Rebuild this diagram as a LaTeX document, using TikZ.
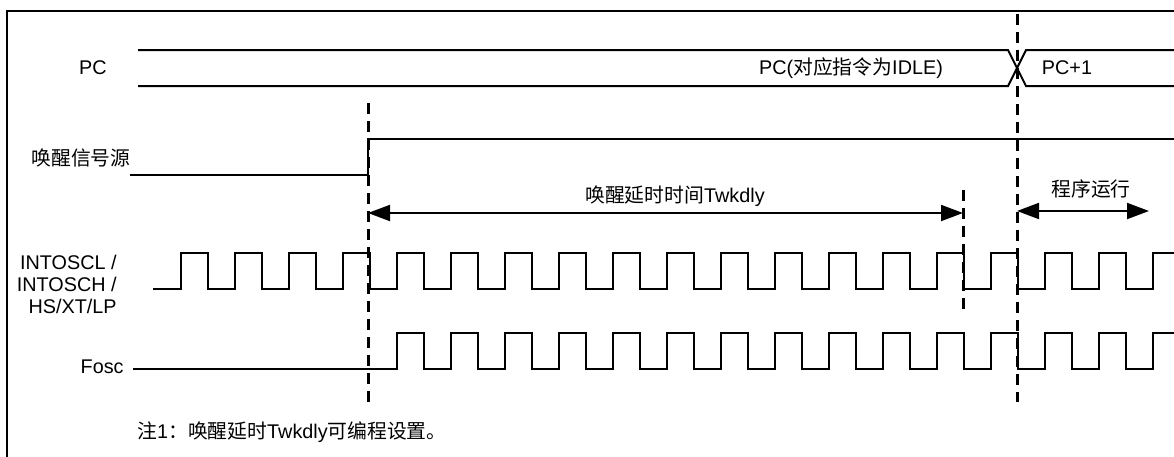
\documentclass[tikz,border=0pt]{standalone}
\usepackage{fontspec}
\setmainfont{Liberation Sans}
\newfontfamily\cjk{Noto Sans CJK SC}
\usetikzlibrary{arrows.meta}

\begin{document}
\begin{tikzpicture}[
    x=0.5pt, y=-0.5pt,
    frame/.style={line width=1.4pt},
    sig/.style={line width=1pt},
    guide/.style={line width=1.5pt, dash pattern=on 5.5pt off 3.5pt},
    span/.style={line width=1pt, {Triangle[length=11pt,width=8pt]}-{Triangle[length=11pt,width=8pt]}},
    lbl/.style={font=\fontsize{9.9}{11}\selectfont, inner sep=0pt}
]
\useasboundingbox (0,0) rectangle (1174,456);
\clip (0,0) rectangle (1174,456);

% Frame (cut off on the right and at the bottom)
\draw[frame] (7,470) -- (7,11) -- (1190,11);

% Guide marks
\coordinate (wakeT) at (368,103);
\coordinate (wakeB) at (368,402);
\coordinate (runT) at (1017,14);
\coordinate (runB) at (1017,402);
\coordinate (dlyT) at (963,190);
\coordinate (dlyB) at (963,313);
\draw[guide] (wakeT) -- (wakeB);
\draw[guide] (runT) -- (runB);
\draw[guide] (dlyT) -- (dlyB);

% PC bus
\draw[sig] (138,50) -- (1008,50) -- (1026,86) -- (1190,86);
\draw[sig] (138,86) -- (1008,86) -- (1026,50) -- (1190,50);
\node[lbl] (pc) at (93,68) {PC};
\node[lbl] (pcidle) at (851,68) {PC({\cjk 对应指令为}IDLE)};
\node[lbl] (pcnext) at (1067,68) {PC+1};

% Wake-up source
\draw[sig] (130,175) -- (368,175) -- (368,139) -- (1190,139);
\node[lbl] (wakesrc) at (81,158) {\cjk 唤醒信号源};

% Delay and run spans
\coordinate (dlyL) at (368,213);
\coordinate (dlyR) at (963,213);
\coordinate (runL) at (1017,211);
\coordinate (runR) at (1149,211);
\draw[span] (dlyL) -- (dlyR);
\draw[span] (runL) -- (runR);
\node[lbl] (dlytxt) at (675,196) {{\cjk 唤醒延时时间}Twkdly};
\node[lbl] (runtxt) at (1091,189) {\cjk 程序运行};

% Oscillator clock
\draw[sig] (153,289) foreach \k in {0,...,18} {
    -- (180.5+\k*54,289) -- (180.5+\k*54,253) -- (207.5+\k*54,253) -- (207.5+\k*54,289) };
\node[lbl, anchor=east, align=right] (osc) at (117,284) {INTOSCL /\\INTOSCH /\\HS/XT/LP};

% System clock
\draw[sig] (133,369) foreach \k in {4,...,18} {
    -- (180.5+\k*54,369) -- (180.5+\k*54,333) -- (207.5+\k*54,333) -- (207.5+\k*54,369) };
\node[lbl, anchor=east] (fosc) at (124,367) {Fosc};

% Note
\node[lbl, anchor=west] (note) at (137,432) {{\cjk 注}1{\cjk ：唤醒延时}Twkdly{\cjk 可编程设置。}};

\end{tikzpicture}
\end{document}
